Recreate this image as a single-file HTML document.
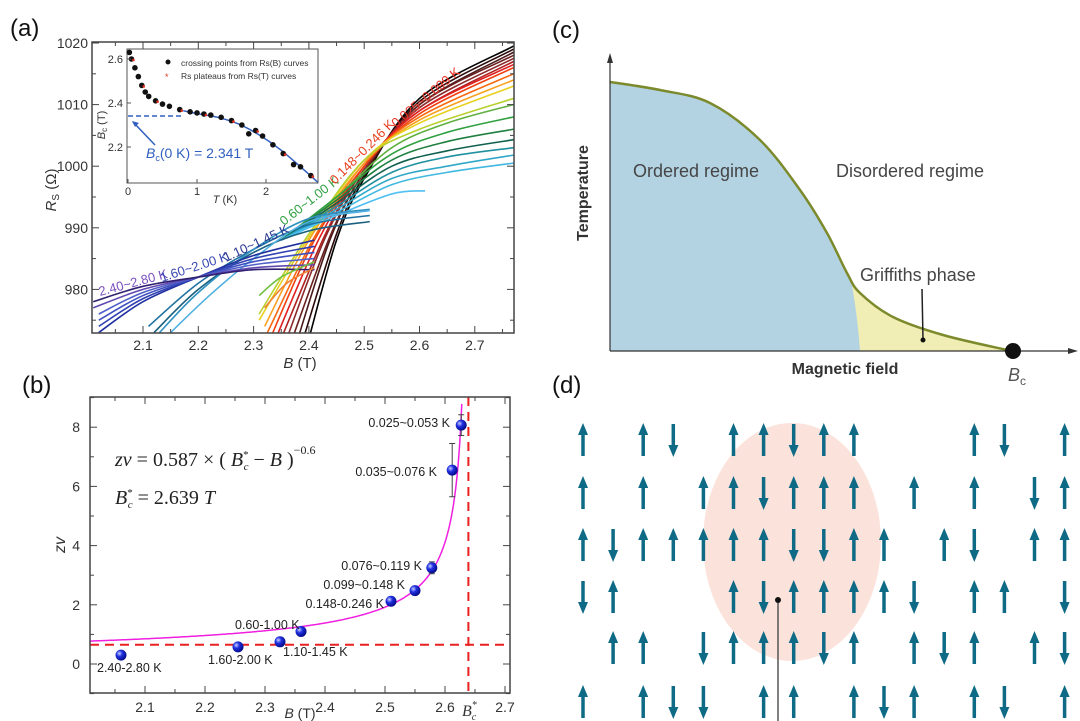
<!DOCTYPE html>
<html><head><meta charset="utf-8">
<style>
html,body{margin:0;padding:0;background:#fff;}
svg{display:block;font-family:"Liberation Sans",sans-serif;}
</style></head>
<body>
<svg id="fig" width="1080" height="721" viewBox="0 0 1080 721">
<defs>
<clipPath id="clipA"><rect x="92" y="42" width="422" height="291"/></clipPath>
<clipPath id="clipB"><rect x="90" y="397" width="420" height="296"/></clipPath>
<clipPath id="clipD"><rect x="550" y="400" width="530" height="321"/></clipPath>
<radialGradient id="ball" cx="0.35" cy="0.35" r="0.7"><stop offset="0" stop-color="#c8d0ff"/><stop offset="0.4" stop-color="#2030e0"/><stop offset="1" stop-color="#000880"/></radialGradient>
</defs>
<g id="panelA"></g>
<g id="panelB"></g>
<g id="panelC"></g>
<g id="panelD"></g>
</svg>
<script>
const NS='http://www.w3.org/2000/svg';
function mk(parent,tag,attrs,text){const e=document.createElementNS(NS,tag);for(const k in attrs)e.setAttribute(k,attrs[k]);if(text!==undefined)e.textContent=text;parent.appendChild(e);return e;}
function smooth(pts){if(pts.length<2)return '';let d='M'+pts[0][0]+','+pts[0][1];for(let i=0;i<pts.length-1;i++){const p0=pts[i-1]||pts[i],p1=pts[i],p2=pts[i+1],p3=pts[i+2]||p2;const c1=[p1[0]+(p2[0]-p0[0])/6,p1[1]+(p2[1]-p0[1])/6],c2=[p2[0]-(p3[0]-p1[0])/6,p2[1]-(p3[1]-p1[1])/6];d+=' C'+c1[0]+','+c1[1]+' '+c2[0]+','+c2[1]+' '+p2[0]+','+p2[1];}return d;}

/* ---------- Panel (a) data ---------- */
const aXTicks=[2.1,2.2,2.3,2.4,2.5,2.6,2.7];
const aYTicks=[980,990,1000,1010,1020];
const aCurveColors=['#000000','#2a0a0a','#4a1a1a','#6b2020','#8b2a2a','#b02020','#e02020','#f04010','#f86a10','#f8a020','#e8d020','#b8d030','#60b040','#30a040','#208040','#106050','#2090a0','#30a8c8','#40b8e0','#50c0f0','#1a6080','#2070a0','#3090c0','#50b0e0','#2030a0','#3040b0','#4050c0','#5060c8','#6048b0','#302070','#70c040','#f08030'];
const aCurves=[
[[2.40,972],[2.45,988],[2.50,998],[2.60,1011],[2.77,1019.5]],
[[2.39,972],[2.45,989],[2.50,998.5],[2.60,1010.5],[2.77,1019]],
[[2.38,972],[2.44,988.5],[2.50,999],[2.60,1010],[2.77,1018.5]],
[[2.37,972],[2.44,989],[2.50,999],[2.60,1010],[2.77,1018]],
[[2.36,972],[2.43,988.5],[2.50,999.5],[2.60,1009.5],[2.77,1017.5]],
[[2.35,972],[2.43,989],[2.50,1000],[2.60,1009],[2.77,1017]],
[[2.34,972],[2.42,988.5],[2.50,1000],[2.60,1009],[2.77,1016.5]],
[[2.33,972],[2.41,988],[2.50,1000],[2.60,1008.5],[2.77,1016]],
[[2.325,973],[2.41,988.5],[2.50,1000.5],[2.60,1008],[2.77,1015]],
[[2.32,974],[2.40,988],[2.50,1000.5],[2.60,1007.5],[2.77,1014]],
[[2.31,975],[2.40,988.5],[2.50,1001],[2.60,1007],[2.77,1013]],
[[2.31,976],[2.40,989],[2.50,1001],[2.60,1006],[2.77,1011]],
[[2.35,988],[2.45,995],[2.55,1003],[2.65,1007],[2.77,1010]],
[[2.35,988],[2.45,995],[2.55,1002],[2.65,1005.5],[2.77,1008]],
[[2.35,988],[2.45,994.5],[2.55,1001],[2.65,1004],[2.77,1006]],
[[2.35,988],[2.45,994],[2.55,1000],[2.65,1002.5],[2.77,1004.3]],
[[2.35,988],[2.45,993.5],[2.55,999],[2.65,1001.5],[2.77,1003]],
[[2.35,988],[2.45,993],[2.55,998],[2.65,1000],[2.77,1001.8]],
[[2.35,988],[2.45,992.5],[2.55,997],[2.65,999],[2.77,1000.5]],
[[2.35,988],[2.45,992],[2.55,995.5],[2.61,996]],
[[2.12,973],[2.2,980],[2.3,986],[2.4,989.5],[2.51,991]],
[[2.11,974],[2.2,981],[2.3,986.5],[2.4,990.5],[2.51,992]],
[[2.13,973],[2.2,979.5],[2.3,986.5],[2.4,991.5],[2.51,993]],
[[2.15,973],[2.22,979],[2.3,985],[2.4,991],[2.51,992.8]],
[[2.02,973],[2.1,978],[2.2,982],[2.3,985.5],[2.41,988]],
[[2.02,974],[2.1,978.5],[2.2,982],[2.3,985],[2.41,987]],
[[2.02,975],[2.1,979],[2.2,982],[2.3,984.5],[2.41,986]],
[[2.02,976],[2.1,979.5],[2.2,982],[2.3,984],[2.41,985]],
[[2.01,977],[2.1,980],[2.2,982],[2.3,983.5],[2.41,984]],
[[2.01,978],[2.1,980.5],[2.2,982],[2.3,983.2],[2.41,983.2]],
[[2.31,979],[2.35,982],[2.41,984.5]],
[[2.32,977],[2.36,981],[2.41,983.5]]
];
const insetT=[0.02,0.05,0.1,0.15,0.2,0.25,0.3,0.4,0.5,0.6,0.75,0.9,1.0,1.1,1.2,1.35,1.5,1.65,1.75,1.85,1.95,2.1,2.25,2.4,2.5,2.65];
const insetBc=[2.63,2.6,2.56,2.52,2.48,2.45,2.43,2.41,2.395,2.385,2.37,2.36,2.355,2.35,2.345,2.335,2.32,2.3,2.26,2.275,2.25,2.21,2.17,2.12,2.11,2.07];
const insetFitT=[0.8,1.0,1.3,1.6,1.9,2.2,2.5,2.75];
const insetFitBc=[2.365,2.352,2.335,2.305,2.255,2.19,2.11,2.04];
const insetTTicks=[0,1,2];
const insetBTicks=[2.2,2.4,2.6];

/* ---------- Panel (b) data ---------- */
const bXTicks=[2.1,2.2,2.3,2.4,2.5,2.6,2.7];
const bYTicks=[0,2,4,6,8];
const bB=[2.06,2.255,2.325,2.36,2.51,2.55,2.578,2.612,2.627];
const bZv=[0.3,0.58,0.75,1.1,2.12,2.48,3.25,6.55,8.07];
const bErr=[0,0,0,0,0,0,0.2,0.9,0.35];
const bLabels=['2.40-2.80 K','1.60-2.00 K','1.10-1.45 K','0.60-1.00 K','0.148-0.246 K','0.099~0.148 K','0.076~0.119 K','0.035~0.076 K','0.025~0.053 K'];
const bFitA=0.587, bFitBc=2.639, bFitExp=-0.6, bPlateau=0.65;

/* ---------- Panel (c) data ---------- */
const cBoundary=[[610,82],[660,90],[710,103],[760,140],[800,190],[827,233],[847,273],[860,293],[893,317],[943,335],[1007,350]];

/* ---------- Panel (d) data: spins per row (col index, 1=up, -1=down) ---------- */
const dRows=[
[[0,1],[2,1],[3,-1],[5,1],[6,1],[7,-1],[8,1],[9,1],[13,1],[14,-1],[16,1]],
[[0,1],[2,1],[4,1],[5,1],[6,-1],[7,1],[8,1],[9,1],[11,1],[13,1],[15,-1],[16,1]],
[[0,1],[1,-1],[2,1],[3,1],[4,1],[5,1],[6,1],[7,-1],[8,-1],[9,1],[10,1],[12,1],[13,-1],[15,1],[16,1]],
[[0,-1],[1,1],[5,1],[6,-1],[7,1],[8,1],[9,1],[10,1],[11,-1],[13,1],[14,1],[16,-1]],
[[1,1],[2,1],[4,-1],[5,1],[6,1],[7,1],[8,-1],[9,1],[11,1],[12,-1],[13,1],[15,1],[16,-1]],
[[0,1],[2,1],[3,-1],[4,-1],[6,1],[7,1],[9,1],[10,-1],[11,1],[13,1],[14,-1],[16,1]]
];

/* ================= Draw (a) ================= */
(function(){
const g=document.getElementById('panelA');
const xA=B=>143+(B-2.1)*553, yA=R=>43+(1020-R)*6.16;
const t=mk(g,'text',{x:10,y:36,'font-size':24,fill:'#111'},'(a)');

const cg=mk(g,'g',{'clip-path':'url(#clipA)'});
aCurves.forEach((c,i)=>{
  const p=mk(cg,'path',{d:smooth(c.map(q=>[xA(q[0]),yA(q[1])])),fill:'none',stroke:aCurveColors[i],'stroke-width':1.6});
  
});
const box=mk(g,'rect',{x:92,y:42,width:422,height:291,fill:'none',stroke:'#444','stroke-width':1.5});

for(let B=2.05;B<2.77;B+=0.05){const big=Math.abs(B*10-Math.round(B*10))<0.01;const L=big?7:4;
 mk(g,'line',{x1:xA(B),x2:xA(B),y1:333,y2:333-L,stroke:'#444'});mk(g,'line',{x1:xA(B),x2:xA(B),y1:42,y2:42+L,stroke:'#444'});}
aXTicks.forEach(v=>{const e=mk(g,'text',{x:xA(v),y:350,'font-size':14,'text-anchor':'middle',fill:'#333'},v.toFixed(1));});
for(let R=975;R<=1020;R+=5){const L=R%10===0?7:4;mk(g,'line',{x1:92,x2:92+L,y1:yA(R),y2:yA(R),stroke:'#444'});mk(g,'line',{x1:514,x2:514-L,y1:yA(R),y2:yA(R),stroke:'#444'});}
aYTicks.forEach(v=>{const e=mk(g,'text',{x:88,y:yA(v)+5,'font-size':14,'text-anchor':'end',fill:'#333'},v);});
const yl=mk(g,'text',{x:0,y:0,'font-size':15,fill:'#333',transform:'translate(56,190) rotate(-90)','text-anchor':'middle'});
yl.innerHTML='<tspan font-style="italic">R</tspan><tspan font-size="10" dy="3">S</tspan><tspan dy="-3"> (Ω)</tspan>';

const xl=mk(g,'text',{x:300,y:368,'font-size':15,fill:'#333','text-anchor':'middle'});xl.innerHTML='<tspan font-style="italic">B</tspan> (T)';

const labs=[['2.40~2.80 K','#7a50c0',100,296,-15],['1.60~2.00 K','#3848b0',162,282,-18],['1.10~1.45 K','#283890',226,262,-25],['0.60~1.00 K','#30a040',284,226,-38],['0.148~0.246 K','#e84020',335,185,-45],['0.025~0.099 K','#e83020',396,128,-40]];
labs.forEach(l=>{const e=mk(g,'text',{x:l[2],y:l[3],'font-size':13,fill:l[1],transform:`rotate(${l[4]} ${l[2]} ${l[3]})`},l[0]);});
/* inset */
const ix=T=>128+T*69, iy=b=>59+(2.6-b)*220;
const ib=mk(g,'rect',{x:127,y:49,width:191,height:134,fill:'#fff',stroke:'#555','stroke-width':1});

const dash=mk(g,'line',{x1:ix(0),x2:ix(0.8),y1:iy(2.341),y2:iy(2.341),stroke:'#3060c0','stroke-width':1.5,'stroke-dasharray':'5,3'});

const fit=mk(g,'path',{d:smooth(insetFitT.map((T,i)=>[ix(T),iy(insetFitBc[i])])),fill:'none',stroke:'#3060c0','stroke-width':1.5});

insetT.forEach((T,i)=>{const c=mk(g,'circle',{cx:ix(T),cy:iy(insetBc[i]),r:2.8,fill:'#111'});
 if(i%3===1){mk(g,'circle',{cx:ix(T)+2,cy:iy(insetBc[i])+1,r:1.3,fill:'#e03020'});}});
insetTTicks.forEach(v=>{mk(g,'line',{x1:ix(v),x2:ix(v),y1:183,y2:179,stroke:'#555'});const e=mk(g,'text',{x:ix(v),y:195,'font-size':11,'text-anchor':'middle',fill:'#333'},v);});
insetBTicks.forEach(v=>{mk(g,'line',{x1:127,x2:131,y1:iy(v),y2:iy(v),stroke:'#555'});const e=mk(g,'text',{x:123,y:iy(v)+4,'font-size':11,'text-anchor':'end',fill:'#333'},v.toFixed(1));});
const itx=mk(g,'text',{x:225,y:203,'font-size':11,'text-anchor':'middle',fill:'#333'});itx.innerHTML='<tspan font-style="italic">T</tspan> (K)';
const ity=mk(g,'text',{x:0,y:0,'font-size':11,fill:'#333',transform:'translate(105,125) rotate(-90)','text-anchor':'middle'});ity.innerHTML='<tspan font-style="italic">B</tspan><tspan font-size="8" dy="2">c</tspan><tspan dy="-2"> (T)</tspan>';
mk(g,'circle',{cx:168,cy:62,r:2.5,fill:'#111'});
const lg1=mk(g,'text',{x:181,y:66,'font-size':8.5,fill:'#333'},'crossing points from Rs(B) curves');
mk(g,'text',{x:165,y:80,'font-size':9,fill:'#e03020'},'*');
const lg2=mk(g,'text',{x:181,y:79,'font-size':8.5,fill:'#333'},'Rs plateaus from Rs(T) curves');
mk(g,'line',{x1:155,x2:133,y1:145,y2:122,stroke:'#3060c0','stroke-width':1.5});
mk(g,'path',{d:'M132,121 l7,2 l-4,4 z',fill:'#3060c0'});
const bc0=mk(g,'text',{x:146,y:158,'font-size':14,fill:'#3060c0'});bc0.innerHTML='<tspan font-style="italic">B</tspan><tspan font-size="9" dy="3">c</tspan><tspan dy="-3">(0 K) = 2.341 T</tspan>';
})();

/* ================= Draw (b) ================= */
(function(){
const g=document.getElementById('panelB');
const xB=B=>145+(B-2.1)*600, yB=z=>664-z*29.6;
const t=mk(g,'text',{x:22,y:393,'font-size':24,fill:'#111'},'(b)');
const cg=mk(g,'g',{'clip-path':'url(#clipB)'});
const h=mk(cg,'line',{x1:90,x2:510,y1:yB(bPlateau),y2:yB(bPlateau),stroke:'#e82020','stroke-width':2,'stroke-dasharray':'9,6'});
const v=mk(cg,'line',{x1:xB(bFitBc),x2:xB(bFitBc),y1:397,y2:693,stroke:'#e82020','stroke-width':2,'stroke-dasharray':'9,6'});
const fp=[];for(let B=2.0;B<=bFitBc-0.011;B+=0.002){fp.push([xB(B),yB(bFitA*Math.pow(bFitBc-B,bFitExp))]);}
const fit=mk(cg,'path',{d:'M'+fp.map(p=>p[0].toFixed(1)+','+p[1].toFixed(1)).join(' L'),fill:'none',stroke:'#f020e0','stroke-width':1.5});
mk(g,'rect',{x:90,y:397,width:420,height:296,fill:'none',stroke:'#444','stroke-width':1.5});
for(let B=2.05;B<2.71;B+=0.05){const big=Math.abs(B*10-Math.round(B*10))<0.01;const L=big?7:4;mk(g,'line',{x1:xB(B),x2:xB(B),y1:693,y2:693-L,stroke:'#444'});mk(g,'line',{x1:xB(B),x2:xB(B),y1:397,y2:397+L,stroke:'#444'});}
for(let z=-1;z<=9;z++){const L=z%2===0?7:4;mk(g,'line',{x1:90,x2:90+L,y1:yB(z),y2:yB(z),stroke:'#444'});mk(g,'line',{x1:510,x2:510-L,y1:yB(z),y2:yB(z),stroke:'#444'});}
bXTicks.forEach(v=>{const e=mk(g,'text',{x:xB(v),y:712,'font-size':14,'text-anchor':'middle',fill:'#333'},v.toFixed(1));});
bYTicks.forEach(v=>{const e=mk(g,'text',{x:80,y:yB(v)+5,'font-size':14,'text-anchor':'end',fill:'#333'},v);});
const xl=mk(g,'text',{x:300,y:718,'font-size':14,'text-anchor':'middle',fill:'#333'});xl.innerHTML='<tspan font-style="italic">B</tspan> (T)';
const bc=mk(g,'text',{x:462,y:716,'font-size':16,fill:'#333','font-family':'Liberation Serif, serif','font-style':'italic'});bc.innerHTML='B<tspan font-size="10" dy="-8">*</tspan><tspan font-size="10" dx="-5" dy="12">c</tspan>';
const yl=mk(g,'text',{x:0,y:0,'font-size':16,fill:'#333','font-style':'italic',transform:'translate(65,545) rotate(-90)','text-anchor':'middle'},'zv');
const eq=mk(g,'text',{x:115,y:466,'font-size':20,fill:'#222','font-family':'Liberation Serif, serif'});
eq.innerHTML='<tspan font-style="italic">zv</tspan> = 0.587 × ( <tspan font-style="italic">B</tspan><tspan font-size="11" dy="-8">*</tspan><tspan font-size="11" dx="-5" dy="12" font-style="italic">c</tspan><tspan dy="-4"> − </tspan><tspan font-style="italic">B</tspan> )<tspan font-size="12" dy="-12">−0.6</tspan>';

const eq2=mk(g,'text',{x:115,y:504,'font-size':20,fill:'#222','font-family':'Liberation Serif, serif'});
eq2.innerHTML='<tspan font-style="italic">B</tspan><tspan font-size="11" dy="-8">*</tspan><tspan font-size="11" dx="-5" dy="12" font-style="italic">c</tspan><tspan dy="-4"> = 2.639  </tspan><tspan font-style="italic">T</tspan>';

const lpos=[[97,672,'start'],[208,664,'start'],[283,656,'start'],[235,629,'start'],[384,608,'end'],[405,589,'end'],[422,570,'end'],[437,476,'end'],[450,427,'end']];
bB.forEach((B,i)=>{
 if(bErr[i]>0){const e=mk(g,'path',{d:`M${xB(B)},${yB(bZv[i]-bErr[i])}V${yB(bZv[i]+bErr[i])}M${xB(B)-3},${yB(bZv[i]-bErr[i])}h6M${xB(B)-3},${yB(bZv[i]+bErr[i])}h6`,stroke:'#444','stroke-width':1,fill:'none'});}
 const c=mk(g,'circle',{cx:xB(B),cy:yB(bZv[i]),r:5.5,fill:'url(#ball)'});
 const l=mk(g,'text',{x:lpos[i][0],y:lpos[i][1],'font-size':12.5,fill:'#222','text-anchor':lpos[i][2]},bLabels[i]);
});
})();

/* ================= Draw (c) ================= */
(function(){
const g=document.getElementById('panelC');
const t=mk(g,'text',{x:552,y:38,'font-size':24,fill:'#111'},'(c)');
const curve=smooth(cBoundary);
const yel=mk(g,'path',{d:curve+' L1007,351 L610,351 Z',fill:'#f1eeb5'});
const ordPts=cBoundary.filter(p=>p[0]<=850);
const blue=mk(g,'path',{d:smooth(ordPts.concat([[852,285]]))+' Q858,320 860,351 L610,351 Z',fill:'#b3d3e3'});
const ln=mk(g,'path',{d:curve,fill:'none',stroke:'#7c8a2c','stroke-width':2.5});
mk(g,'line',{x1:610,x2:610,y1:351,y2:60,stroke:'#333','stroke-width':1.2});mk(g,'path',{d:'M610,53 l-3,10 h6 z',fill:'#333'});
mk(g,'line',{x1:610,x2:1070,y1:351,y2:351,stroke:'#333','stroke-width':1.2});mk(g,'path',{d:'M1078,351 l-10,-3 v6 z',fill:'#333'});
const dot=mk(g,'circle',{cx:1013,cy:351,r:8,fill:'#111'});
mk(g,'line',{x1:922,x2:923,y1:289,y2:339,stroke:'#222','stroke-width':1.5});mk(g,'circle',{cx:923,cy:340,r:2.5,fill:'#111'});
const tx=[['Ordered regime',633,177,'ordered-regime-label'],['Disordered regime',836,177,'disordered-regime-label'],['Griffiths phase',860,281,'griffiths-phase-label']];
tx.forEach(a=>{const e=mk(g,'text',{x:a[1],y:a[2],'font-size':18,fill:'#454545'},a[0]);});
const ty=mk(g,'text',{x:0,y:0,'font-size':16,'font-weight':'bold',fill:'#333',transform:'translate(588,193) rotate(-90)','text-anchor':'middle'},'Temperature');
const mx=mk(g,'text',{x:845,y:374,'font-size':16,'font-weight':'bold',fill:'#333','text-anchor':'middle'},'Magnetic field');
const bcl=mk(g,'text',{x:1008,y:381,'font-size':18,fill:'#555'});bcl.innerHTML='<tspan font-style="italic">B</tspan><tspan font-size="12" dy="4">c</tspan>';
})();

/* ================= Draw (d) ================= */
(function(){
const g=document.getElementById('panelD');
const t=mk(g,'text',{x:552,y:393,'font-size':24,fill:'#111'},'(d)');
const cg=mk(g,'g',{'clip-path':'url(#clipD)'});
const el=mk(cg,'ellipse',{cx:792,cy:542,rx:89,ry:119,fill:'#fbe3dc'});
const rowY=[440,493,545,597,648,702];
dRows.forEach((row,r)=>row.forEach(s=>{
 const x=583+s[0]*30.1, y=rowY[r], d=s[1];
 const a=mk(cg,'g',{});
 mk(a,'line',{x1:x,x2:x,y1:y-d*8,y2:y+d*16,stroke:'#0e6a85','stroke-width':3.5});
 mk(a,'path',{d:`M${x},${y-d*17} L${x-5},${y-d*5} L${x+5},${y-d*5} Z`,fill:'#0e6a85'});
}));
mk(cg,'line',{x1:778,x2:778,y1:600,y2:721,stroke:'#555','stroke-width':1.5});
const pd=mk(cg,'circle',{cx:778,cy:600,r:3,fill:'#111'});
})();
</script>
</body></html>
